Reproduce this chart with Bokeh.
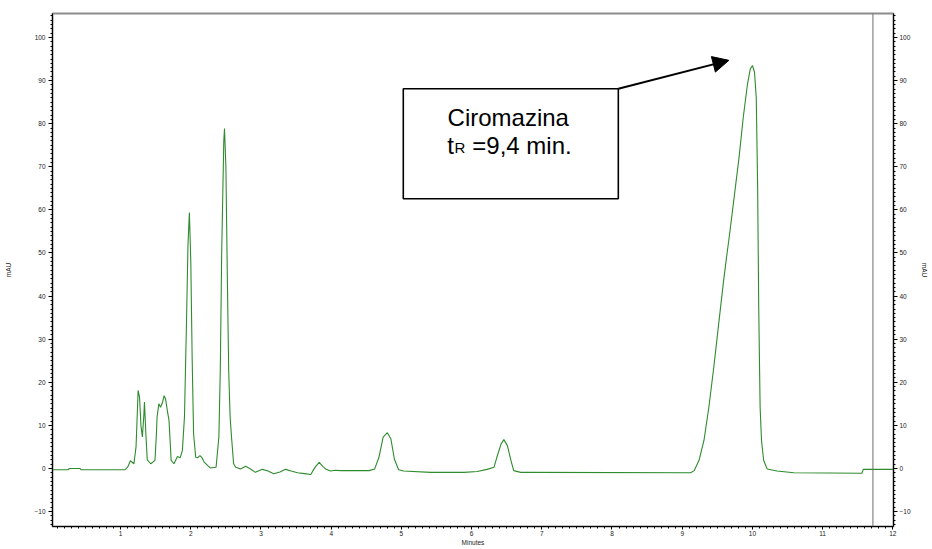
from bokeh.plotting import figure
from bokeh.models import (Range1d, LinearAxis, FixedTicker, Span, BoxAnnotation,
                          Label, Arrow, NormalHead, ColumnDataSource)
from bokeh.embed import file_html
from bokeh.resources import INLINE

# Chromatogram trace: retention time (min) and detector response (mAU)
time_min = [0.00, 0.25, 0.27, 0.42, 0.44, 1.06, 1.10, 1.14, 1.19, 1.22,
            1.25, 1.27, 1.29, 1.31, 1.33, 1.34, 1.36, 1.38, 1.43, 1.49,
            1.51, 1.52, 1.545, 1.57, 1.60, 1.62, 1.64, 1.67, 1.69, 1.71,
            1.72, 1.76, 1.81, 1.85, 1.88, 1.91, 1.94, 1.96, 1.98, 2.00,
            2.02, 2.04, 2.07, 2.10, 2.13, 2.16, 2.19, 2.28, 2.36, 2.40,
            2.42, 2.44, 2.47, 2.48, 2.50, 2.52, 2.54, 2.56, 2.58, 2.61,
            2.64, 2.71, 2.78, 2.84, 2.92, 3.02, 3.10, 3.18, 3.27, 3.35,
            3.43, 3.52, 3.62, 3.71, 3.74, 3.78, 3.83, 3.88, 3.92, 3.99,
            4.06, 4.13, 4.54, 4.62, 4.68, 4.74, 4.80, 4.85, 4.90, 4.96,
            5.03, 5.42, 5.89, 6.08, 6.22, 6.32, 6.36, 6.42, 6.46, 6.51,
            6.56, 6.60, 6.70, 6.84, 9.12, 9.17, 9.24, 9.31, 9.38, 9.45,
            9.52, 9.59, 9.63, 9.67, 9.74, 9.81, 9.87, 9.93, 9.97, 10.00, 10.03,
            10.055, 10.075, 10.09, 10.11, 10.13, 10.16, 10.21, 10.35, 10.59, 11.56,
            11.58, 12.01]
response_mau = [-0.3, -0.3, 0.0, 0.0, -0.3, -0.3, 0.3, 1.8, 1.1, 5.0,
                18.1, 16.5, 10.0, 7.3, 12.0, 15.4, 8.0, 2.0, 1.1, 1.9,
                8.0, 12.0, 15.0, 14.2, 15.5, 16.9, 16.2, 13.0, 11.1, 5.0,
                1.9, 1.1, 2.8, 2.5, 4.2, 12.0, 35.0, 52.0, 59.4, 48.0,
                25.0, 8.0, 2.6, 2.5, 3.0, 2.5, 1.5, 0.1, 0.3, 7.3,
                22.7, 50.0, 76.0, 78.9, 70.0, 45.0, 22.7, 12.0, 7.3, 1.1,
                0.3, -0.1, 0.5, 0.0, -0.9, -0.2, -0.6, -1.2, -0.8, -0.2,
                -0.6, -1.0, -1.2, -1.4, -0.5, 0.5, 1.4, 0.5, -0.1, -0.6,
                -0.4, -0.5, -0.5, -0.1, 2.6, 7.3, 8.3, 6.9, 2.2, -0.3,
                -0.6, -0.9, -0.9, -0.7, -0.2, 0.3, 2.6, 5.7, 6.7, 5.3,
                1.9, -0.5, -0.9, -0.9, -1.0, -0.5, 1.9, 6.5, 14.2, 23.5,
                33.6, 43.6, 48.8, 53.7, 62.9, 72.2, 81.5, 89.2, 92.7, 93.5, 92.0,
                86.0, 65.0, 37.4, 14.2, 6.5, 1.9, -0.1, -0.6, -1.0, -1.1,
                -0.2, -0.2]

x_ticks = [1, 2, 3, 4, 5, 6, 7, 8, 9, 10, 11, 12]
y_ticks = [-10, 0, 10, 20, 30, 40, 50, 60, 70, 80, 90, 100]
x_minor = [i / 10 for i in range(1, 121)]
y_minor = list(range(-13, 106))

# Peak annotation
peak_name = "Ciromazina"
peak_tr_prefix = "t"
peak_tr_sub = "R"
peak_tr_text = "=9,4 min."
peak_time = 9.665
peak_height = 94.7
marker_time = 11.717

FONT = "Liberation Sans"
TICK_FONT_SIZE = "6.5px"

p = figure(width=932, height=549,
           x_range=Range1d(0.03, 12.01), y_range=Range1d(-13.46, 105.57),
           output_backend="svg", toolbar_location=None,
           min_border_left=52, min_border_right=39,
           min_border_top=13, min_border_bottom=23,
           x_axis_label="Minutes", y_axis_label="mAU")
p.background_fill_color = "white"
p.border_fill_color = "white"
p.xgrid.visible = False
p.ygrid.visible = False
p.outline_line_color = "#8c8c8c"
p.outline_line_width = 2

right_axis = LinearAxis(axis_label="mAU")
p.add_layout(right_axis, "right")


def style_axis(ax, ticks, minor, label_standoff, axis_label_standoff):
    ax.ticker = FixedTicker(ticks=ticks, minor_ticks=minor)
    ax.axis_line_color = "black"
    ax.axis_line_width = 1
    ax.major_tick_line_color = "black"
    ax.minor_tick_line_color = "black"
    ax.major_tick_in = 0
    ax.major_tick_out = 4
    ax.minor_tick_in = 0
    ax.minor_tick_out = 2
    ax.major_label_text_font = FONT
    ax.major_label_text_font_size = TICK_FONT_SIZE
    ax.major_label_text_color = "#1a1a1a"
    ax.major_label_standoff = label_standoff
    ax.axis_label_text_font = FONT
    ax.axis_label_text_font_size = TICK_FONT_SIZE
    ax.axis_label_text_font_style = "normal"
    ax.axis_label_text_color = "#1a1a1a"
    ax.axis_label_standoff = axis_label_standoff


style_axis(p.xaxis[0], x_ticks, x_minor, 1, 0)
p.xaxis[0].major_tick_out = 3
style_axis(p.yaxis[0], y_ticks, y_minor, 3, 19)
style_axis(right_axis, y_ticks, y_minor, 2, 7)

src = ColumnDataSource(data=dict(t=time_min, v=response_mau))
p.line("t", "v", source=src, line_color="#2e8b2e", line_width=1.1)

# end-of-run marker
p.add_layout(Span(location=marker_time, dimension="height",
                  line_color="#6e6e6e", line_width=1))

# callout box with the retention time
p.add_layout(BoxAnnotation(left=5.027, right=8.09, bottom=62.58, top=88.1,
                           fill_color="white", fill_alpha=1.0,
                           line_color="black", line_alpha=1.0, line_width=1.6))
p.add_layout(Label(x=5.658, y=81.5, text=peak_name, text_font=FONT,
                   text_font_size="24px", text_color="black",
                   text_baseline="alphabetic"))
p.add_layout(Label(x=5.654, y=74.95, text=peak_tr_prefix, text_font=FONT,
                   text_font_size="24px", text_color="black",
                   text_baseline="alphabetic"))
p.add_layout(Label(x=5.758, y=74.5, text=peak_tr_sub, text_font=FONT,
                   text_font_size="15px", text_color="black",
                   text_baseline="alphabetic"))
p.add_layout(Label(x=6.010, y=74.95, text=peak_tr_text, text_font=FONT,
                   text_font_size="24px", text_color="black",
                   text_baseline="alphabetic"))
p.add_layout(Arrow(x_start=8.09, y_start=88.1, x_end=peak_time, y_end=peak_height,
                   line_color="black", line_width=2,
                   end=NormalHead(size=16, fill_color="black", line_color="black")))

open("out.html", "w").write(file_html(p, INLINE))
